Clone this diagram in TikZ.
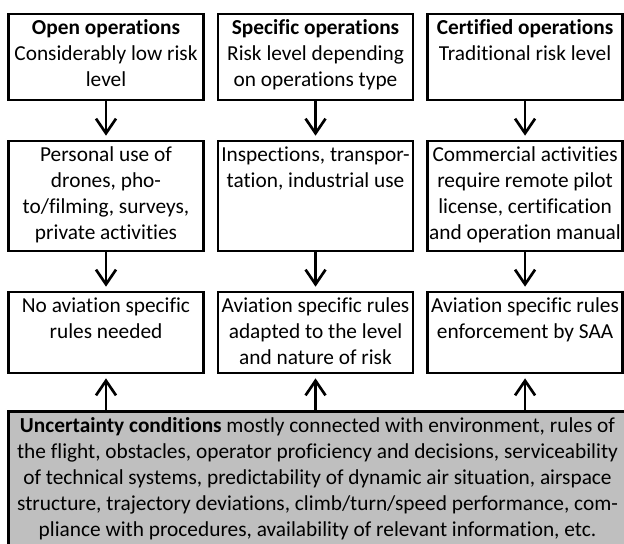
\documentclass[tikz,border=0pt]{standalone}
\usepackage{fontspec}
\setmainfont{Carlito}[Ligatures={NoCommon}]
\usetikzlibrary{arrows.meta,positioning}
\definecolor{condgray}{RGB}{191,191,191}

\begin{document}
\begin{tikzpicture}[x=0.75pt,y=-0.75pt,node distance=30.75pt and 10.9pt,
    >={Straight Barb[length=11pt,width=15pt]}]
      \tikzstyle{block}=[draw,line width=2pt,rectangle,minimum width=146.25pt,inner sep=0pt,outer sep=0pt]
      \tikzstyle{txt}=[align=center,inner sep=0pt,font=\fontsize{16}{19.5}\selectfont]
      \tikzstyle{link}=[->,line width=2pt,shorten >=4pt]

      \clip (0,0) rectangle (624,543);

      % categories
      \node[block,minimum height=64.5pt,anchor=north] (open) at (106,14) {};
      \node[block,minimum height=64.5pt,right = of open] (spec) {};
      \node[block,minimum height=64.5pt,right = of spec] (cert) {};

      % uses
      \node[block,minimum height=82.5pt,below = of open] (pers) {};
      \node[block,minimum height=82.5pt,below = of spec] (insp) {};
      \node[block,minimum height=82.5pt,below = of cert] (comm) {};

      % rules
      \node[block,minimum height=60.75pt,below = of pers] (norule) {};
      \node[block,minimum height=60.75pt,below = of insp] (adapt) {};
      \node[block,minimum height=60.75pt,below = of comm] (saa) {};

      \node[block,fill=condgray,minimum width=463.5pt,minimum height=107pt,
            below=28.9pt of norule.south west,anchor=north west] (unc) {};

      \node[txt,below=1.8pt of open.north] (opentxt)
        {\strut\textbf{Open operations}\\Considerably low risk\\level};
      \node[txt,below=1.8pt of spec.north] (spectxt)
        {\strut\textbf{Specific operations}\\Risk level depending\\on operations type};
      \node[txt,below=1.8pt of cert.north] (certtxt)
        {\strut\textbf{Certified operations}\\Traditional risk level};

      \node[txt,below=1.8pt of pers.north] (perstxt)
        {\strut Personal use of\\drones, pho-\\to/filming, surveys,\\private activities};
      \node[txt,below=1.8pt of insp.north] (insptxt)
        {\strut Inspections, transpor-\\tation, industrial use};
      \node[txt,below=1.8pt of comm.north] (commtxt)
        {\strut Commercial activities\\require remote pilot\\license, certification\\and operation manual};

      \node[txt,below=1.8pt of norule.north] (noruletxt)
        {\strut No aviation specific\\rules needed};
      \node[txt,below=1.8pt of adapt.north] (adapttxt)
        {\strut Aviation specific rules\\adapted to the level\\and nature of risk};
      \node[txt,below=1.8pt of saa.north] (saatxt)
        {\strut Aviation specific rules\\enforcement by SAA};

      \node[txt,below=1.8pt of unc.north] (unctxt)
        {\strut\textbf{Uncertainty conditions} mostly connected with environment, rules of\\
         the flight, obstacles, operator proficiency and decisions, serviceability\\
         of technical systems, predictability of dynamic air situation, airspace\\
         structure, trajectory deviations, climb/turn/speed performance, com-\\
         pliance with procedures, availability of relevant information, etc.};

      \draw[link] (open)--(pers);
      \draw[link] (spec)--(insp);
      \draw[link] (cert)--(comm);
      \draw[link] (pers)--(norule);
      \draw[link] (insp)--(adapt);
      \draw[link] (comm)--(saa);
      \draw[link] (unc.north -| norule)--(norule);
      \draw[link] (unc.north -| adapt)--(adapt);
      \draw[link] (unc.north -| saa)--(saa);
    \end{tikzpicture}
\end{document}
